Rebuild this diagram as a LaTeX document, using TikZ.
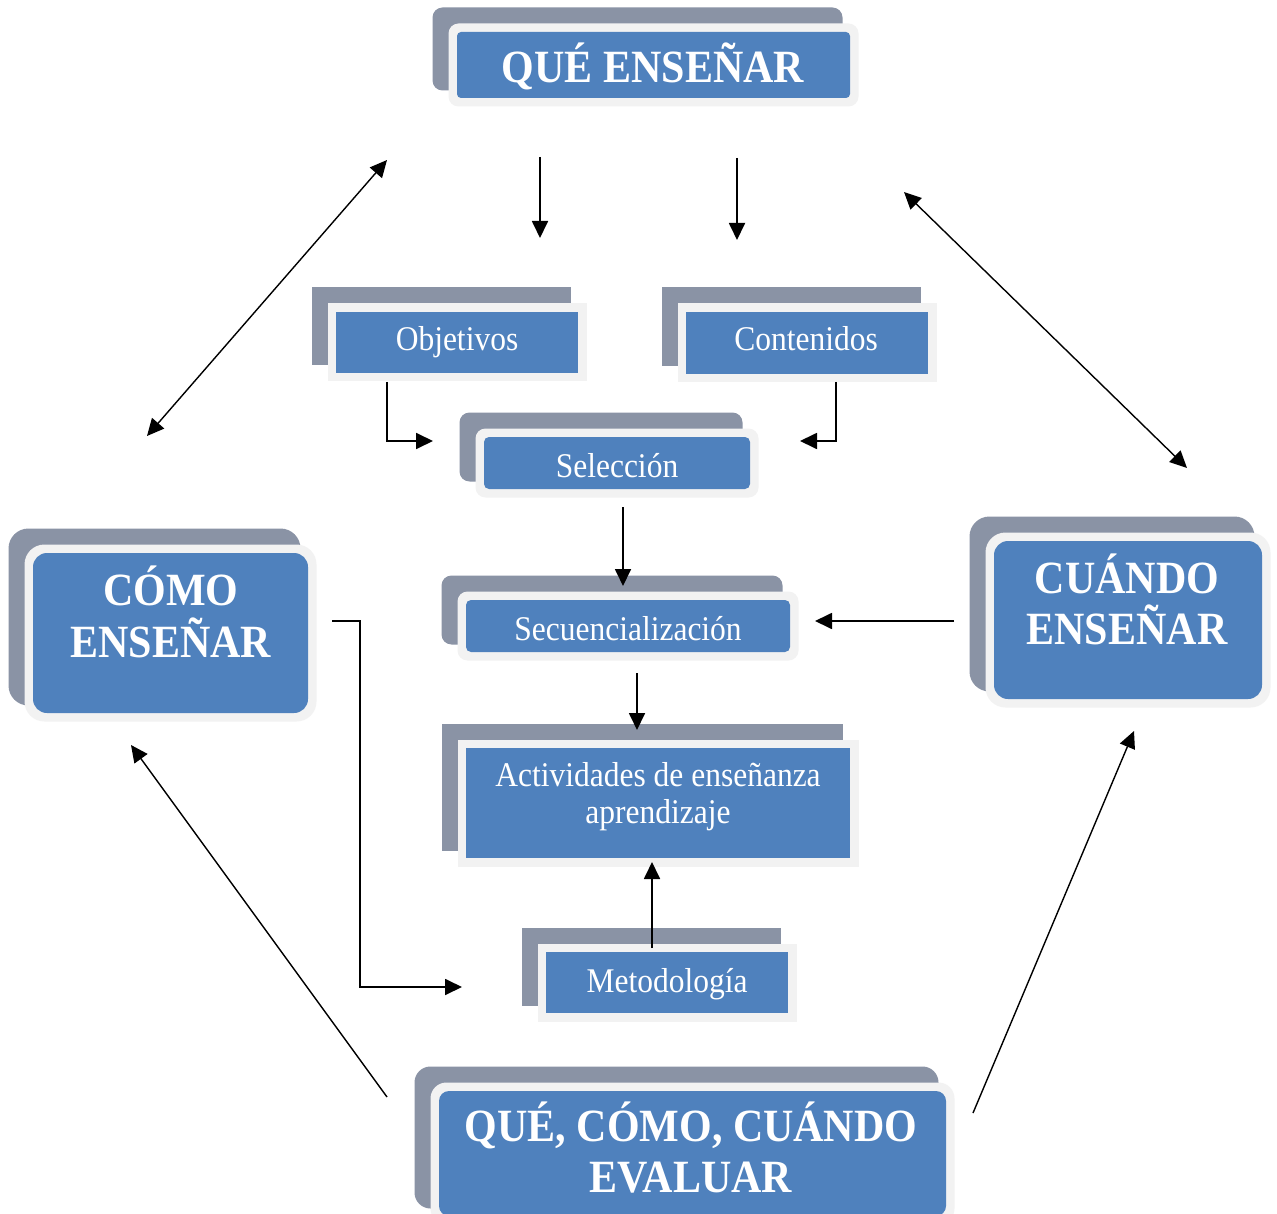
\documentclass[tikz,border=0pt]{standalone}
\usepackage{fontspec}
\setmainfont{Liberation Serif}
\usetikzlibrary{arrows.meta}
\definecolor{boxblue}{HTML}{4F81BD}
\definecolor{boxrim}{HTML}{F2F2F2}
\definecolor{boxshade}{HTML}{8A93A5}
\tikzset{
  bluebox/.style={fill=boxblue, inner sep=0pt, outer sep=0pt},
  bigtxt/.style={text=white, font=\fontsize{42}{52}\selectfont\bfseries, anchor=base, inner sep=0pt},
  smalltxt/.style={text=white, font=\fontsize{31.5}{36}\selectfont, anchor=base, inner sep=0pt},
  arr/.style={line width=1.8pt, -{Triangle[length=17pt,width=16pt]}},
  darr/.style={line width=1.4pt, {Triangle[length=17pt,width=16pt]}-{Triangle[length=17pt,width=16pt]}},
}
% #1 name, #2 x1, #3 y1, #4 x2, #5 y2 (blue area), #6 outer radius, #7 inner radius
\newcommand\dbox[7]{%
  \fill[boxshade, rounded corners=#6] ({#2-24.5},{#3-24.5}) rectangle ({#4-7.5},{#5-7.5});
  \fill[boxrim, rounded corners=#6] ({#2-8.5},{#3-8.5}) rectangle ({#4+8.5},{#5+8.5});
  \node[bluebox, rounded corners=#7, minimum width={#4-#2}, minimum height={#5-#3}] (#1) at ({(#2+#4)/2},{(#3+#5)/2}) {};
}
\newcommand\vst[1]{\scalebox{1}[1.1]{#1}}
\begin{document}
\begin{tikzpicture}[x=1pt,y=-1pt]
\clip (0,0) rectangle (1277,1214);
\fill[white] (0,0) rectangle (1277,1214);

% boxes
\dbox{que}{457}{32}{850}{98}{10pt}{4pt}
\dbox{obj}{336}{312}{578}{373}{0pt}{0pt}
\dbox{cont}{686}{312}{928}{374}{0pt}{0pt}
\dbox{sel}{484}{437}{750}{489}{10pt}{5pt}
\dbox{sec}{466}{600}{790}{652}{10pt}{5pt}
\dbox{act}{466}{748}{850}{858}{0pt}{0pt}
\dbox{met}{546}{952}{788}{1013}{0pt}{0pt}
\dbox{como}{33}{553}{308}{713}{20pt}{14pt}
\dbox{cuando}{994}{541}{1262}{699}{20pt}{14pt}
\dbox{eval}{439}{1091}{946}{1216}{16pt}{10pt}

% texts
\node[bigtxt] (que-t) at (653,83) {\vst{QUÉ ENSEÑAR}};
\node[smalltxt] (obj-t) at (457,351) {\vst{Objetivos}};
\node[smalltxt] (cont-t) at (806,351) {\vst{Contenidos}};
\node[smalltxt] (sel-t) at (617,477) {\vst{Selección}};
\node[smalltxt] (sec-t) at (628,640) {\vst{Secuencialización}};
\node[smalltxt] (act-t1) at (658,786) {\vst{Actividades de enseñanza}};
\node[smalltxt] (act-t2) at (658,823) {\vst{aprendizaje}};
\node[smalltxt] (met-t) at (667,992) {\vst{Metodología}};
\node[bigtxt] (como-t1) at (171,605) {\vst{CÓMO}};
\node[bigtxt] (como-t2) at (171,657) {\vst{ENSEÑAR}};
\node[bigtxt] (cuando-t1) at (1127,593) {\vst{CUÁNDO}};
\node[bigtxt] (cuando-t2) at (1127,644) {\vst{ENSEÑAR}};
\node[bigtxt] (eval-t1) at (691,1141) {\vst{QUÉ, CÓMO, CUÁNDO}};
\node[bigtxt] (eval-t2) at (691,1192) {\vst{EVALUAR}};

% connector end points
\coordinate (a1s) at (540,157);  \coordinate (a1e) at (540,238);
\coordinate (a2s) at (737,158);  \coordinate (a2e) at (737,240);
\coordinate (d1a) at (387,160);  \coordinate (d1b) at (147,436);
\coordinate (d2a) at (904,192);  \coordinate (d2b) at (1187,468);
\coordinate (o1) at (387,382);   \coordinate (o2) at (387,441);  \coordinate (o3) at (433,441);
\coordinate (c1) at (836,382);   \coordinate (c2) at (836,441);  \coordinate (c3) at (800,441);
\coordinate (s1) at (623,507);   \coordinate (s2) at (623,586);
\coordinate (q1) at (637,673);   \coordinate (q2) at (637,730);
\coordinate (w1) at (954,621);   \coordinate (w2) at (815,621);
\coordinate (m1) at (652,948);   \coordinate (m2) at (652,862);
\coordinate (k1) at (332,621);   \coordinate (k2) at (360,621);  \coordinate (k3) at (360,987); \coordinate (k4) at (462,987);
\coordinate (e1) at (387,1097);  \coordinate (e2) at (131,745);
\coordinate (f1) at (973,1113);  \coordinate (f2) at (1134,731);

% connectors
\draw[arr] (a1s) -- (a1e);
\draw[arr] (a2s) -- (a2e);
\draw[darr] (d1a) -- (d1b);
\draw[darr] (d2a) -- (d2b);
\draw[arr] (o1) -- (o2) -- (o3);
\draw[arr] (c1) -- (c2) -- (c3);
\draw[arr] (s1) -- (s2);
\draw[arr] (q1) -- (q2);
\draw[arr] (w1) -- (w2);
\draw[arr] (m1) -- (m2);
\draw[arr] (k1) -- (k2) -- (k3) -- (k4);
\draw[arr, line width=1.4pt] (e1) -- (e2);
\draw[arr, line width=1.4pt] (f1) -- (f2);
\end{tikzpicture}
\end{document}
